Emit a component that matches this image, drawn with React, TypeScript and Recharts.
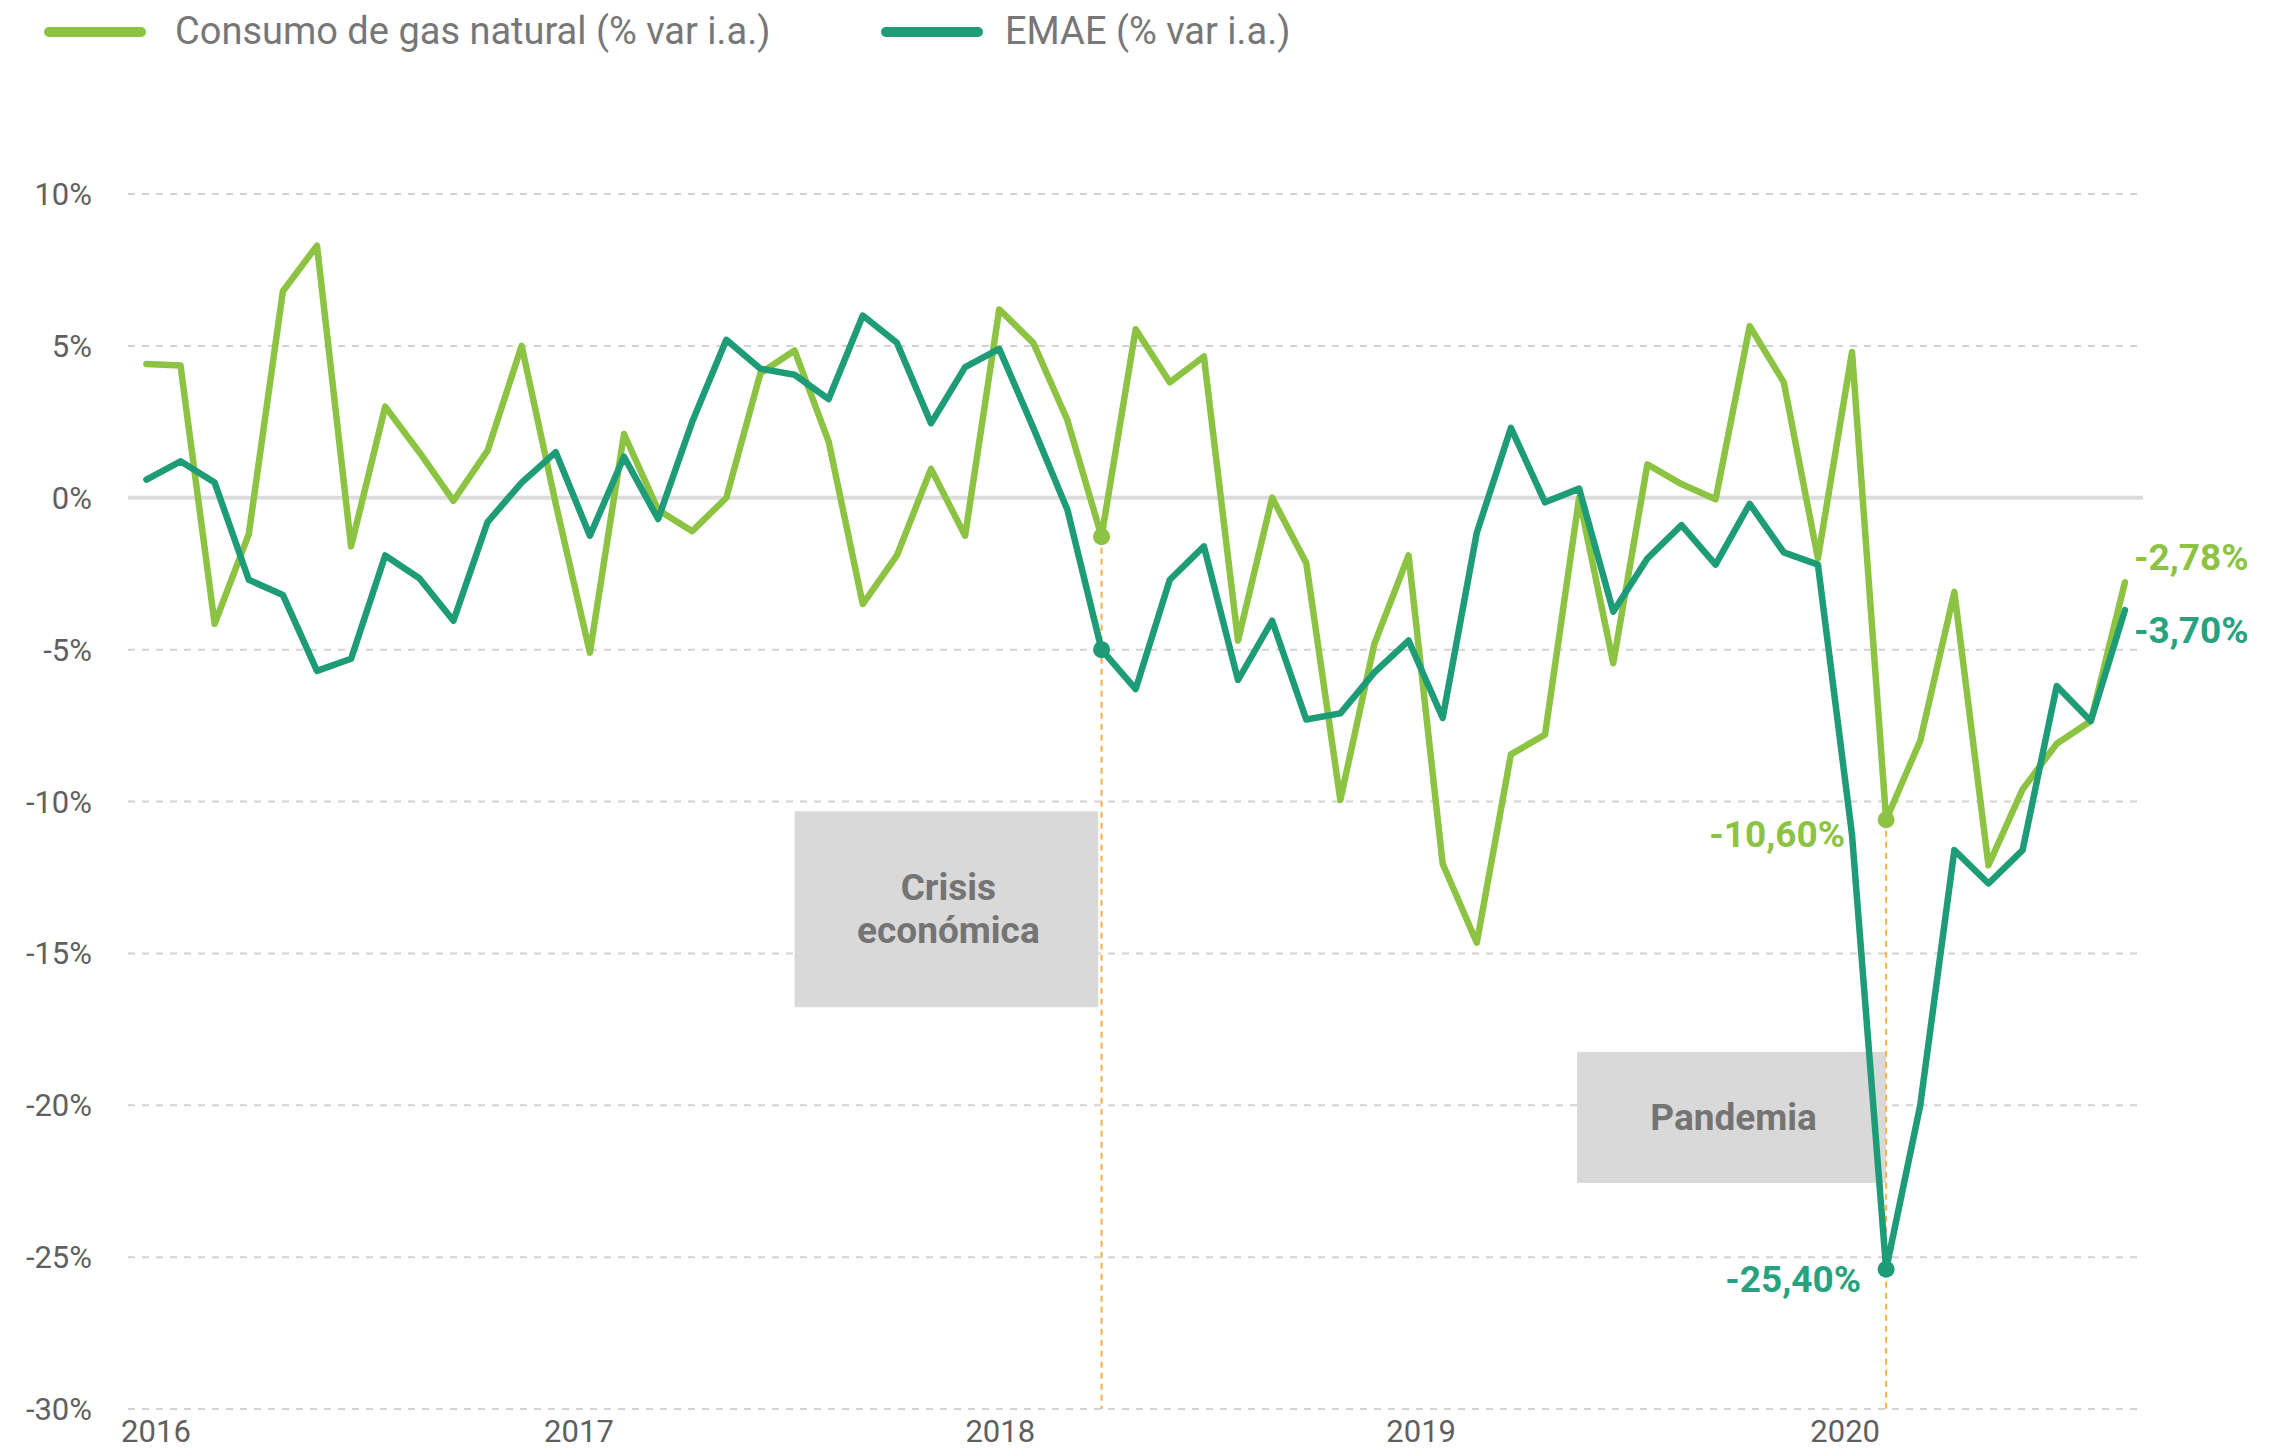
import { CartesianGrid, Line, LineChart, ReferenceArea, ReferenceLine, XAxis, YAxis } from "recharts";

// monthly series, Jan 2016 - Nov 2020
const months = [
  "ene-16", "feb-16", "mar-16", "abr-16", "may-16", "jun-16", "jul-16", "ago-16", "sep-16", "oct-16", "nov-16", "dic-16",
  "ene-17", "feb-17", "mar-17", "abr-17", "may-17", "jun-17", "jul-17", "ago-17", "sep-17", "oct-17", "nov-17", "dic-17",
  "ene-18", "feb-18", "mar-18", "abr-18", "may-18", "jun-18", "jul-18", "ago-18", "sep-18", "oct-18", "nov-18", "dic-18",
  "ene-19", "feb-19", "mar-19", "abr-19", "may-19", "jun-19", "jul-19", "ago-19", "sep-19", "oct-19", "nov-19", "dic-19",
  "ene-20", "feb-20", "mar-20", "abr-20", "may-20", "jun-20", "jul-20", "ago-20", "sep-20", "oct-20", "nov-20",
];

const gas = [
  4.4, 4.35, -4.15, -1.2, 6.8, 8.3, -1.6, 3.0, 1.5, -0.1, 1.55, 5.0,
  -0.2, -5.1, 2.1, -0.4, -1.1, 0.0, 4.1, 4.85, 1.85, -3.5, -1.9, 0.95,
  -1.25, 6.2, 5.1, 2.55, -1.28, 5.55, 3.8, 4.65, -4.7, 0.0, -2.15, -9.95,
  -4.8, -1.9, -12.05, -14.65, -8.45, -7.8, 0.0, -5.45, 1.1, 0.45, -0.05, 5.65,
  3.8, -2.0, 4.8, -10.6, -8.0, -3.1, -12.1, -9.6, -8.1, -7.35, -2.78,
];

const emae = [
  0.6, 1.2, 0.5, -2.7, -3.2, -5.7, -5.3, -1.9, -2.65, -4.05, -0.8, 0.5,
  1.5, -1.25, 1.35, -0.7, 2.5, 5.2, 4.25, 4.05, 3.25, 6.0, 5.1, 2.45,
  4.3, 4.9, 2.3, -0.4, -5.0, -6.3, -2.7, -1.6, -6.0, -4.05, -7.3, -7.1,
  -5.75, -4.7, -7.25, -1.15, 2.3, -0.15, 0.3, -3.75, -2.0, -0.9, -2.2, -0.2,
  -1.8, -2.2, -11.1, -25.4, -20.0, -11.6, -12.7, -11.6, -6.2, -7.35, -3.7,
];

const yTicks = [10, 5, 0, -5, -10, -15, -20, -25, -30];
const yearLabels = ["2016", "2017", "2018", "2019", "2020"];
const yearTicks = [0.28, 12.68, 25.03, 37.37, 49.8];

const CRISIS = 28; // may-18
const PANDEMIC = 51; // abr-20
const LAST = gas.length - 1;

const GAS = "#8cc342";
const EMAE = "#1e9b77";
const EMAE_TEXT = "#27a27f";
const GREY_TEXT = "#777777";

const data = months.map((m, i) => ({ i, month: m, gas: gas[i], emae: emae[i] }));

const fmt = (v: number) => `${v.toFixed(2).replace(".", ",")}%`;

const makeDot = (color: string) => (p: any) => {
  if (p.index !== CRISIS && p.index !== PANDEMIC) return <g key={p.index} />;
  return <circle key={p.index} cx={p.cx} cy={p.cy} r={8.5} fill={color} />;
};

const valueText = (color: string, offsets: Record<number, [number, number, string]>) => (p: any) => {
  const o = offsets[p.index];
  if (!o) return <g key={p.index} />;
  return (
    <text
      key={p.index}
      x={p.x + o[0]}
      y={p.y + o[1]}
      textAnchor={o[2] as any}
      dominantBaseline="central"
      fill={color}
      fontSize={37}
      fontWeight={700}
      fontFamily="Roboto"
    >
      {fmt(p.value)}
    </text>
  );
};

const boxLabel = (lines: string[]) => (p: any) => {
  const { x, y, width, height } = p.viewBox;
  const cx = x + width / 2;
  const cy = y + height / 2;
  const lh = 43;
  return (
    <g>
      {lines.map((t, k) => (
        <text
          key={t}
          x={cx + 2}
          y={cy + (k - (lines.length - 1) / 2) * lh}
          textAnchor="middle"
          dominantBaseline="central"
          fill="#747474"
          fontSize={37}
          fontWeight={700}
          fontFamily="Roboto"
        >
          {t}
        </text>
      ))}
    </g>
  );
};

function LegendItem({ color, label, left, textLeft }: { color: string; label: string; left: number; textLeft: number }) {
  return (
    <>
      <div style={{ position: "absolute", left, top: 27, width: 102, height: 10, borderRadius: 5, background: color }} />
      <div
        style={{
          position: "absolute",
          left: textLeft,
          top: 8,
          fontFamily: "Roboto",
          fontSize: 38,
          lineHeight: "46px",
          color: GREY_TEXT,
          whiteSpace: "nowrap",
        }}
      >
        {label}
      </div>
    </>
  );
}

export default function App() {
  return (
    <div style={{ position: "absolute", left: 0, top: 0, width: 2283, height: 1455, background: "#fff" }}>
      <LegendItem color={GAS} label="Consumo de gas natural (% var i.a.)" left={44} textLeft={175} />
      <LegendItem color={EMAE} label="EMAE (% var i.a.)" left={881} textLeft={1005} />
      <LineChart width={2283} height={1455} data={data} margin={{ top: 194, right: 140, bottom: 0, left: 0 }}>
        <CartesianGrid horizontal vertical={false} stroke="#d3d3d3" strokeWidth={2} strokeDasharray="7 7" />
        <XAxis
          type="number"
          dataKey="i"
          domain={[-0.54, 58.53]}
          ticks={yearTicks}
          tickFormatter={(v) => yearLabels[yearTicks.indexOf(v)] ?? ""}
          axisLine={false}
          tickLine={false}
          tickMargin={5}
          height={46}
          tick={{ fontSize: 31, fill: "#5f5f5f", fontFamily: "Roboto" }}
        />
        <YAxis
          type="number"
          domain={[-30, 10]}
          ticks={yTicks}
          tickFormatter={(v) => `${v}%`}
          axisLine={false}
          tickLine={false}
          tickMargin={30}
          width={128}
          tick={{ fontSize: 31, fill: "#5f5f5f", fontFamily: "Roboto" }}
        />
        <ReferenceLine y={0} stroke="#dcdcdc" strokeWidth={4} />
        <ReferenceArea x1={19} x2={27.9} y1={-10.32} y2={-16.77} fill="#d9d9d9" fillOpacity={1} stroke="none" label={boxLabel(["Crisis", "económica"])} />
        <ReferenceArea x1={41.94} x2={51} y1={-18.25} y2={-22.56} fill="#d9d9d9" fillOpacity={1} stroke="none" label={boxLabel(["Pandemia"])} />
        <ReferenceLine segment={[{ x: CRISIS, y: gas[CRISIS] }, { x: CRISIS, y: -30 }]} stroke="#f5b04c" strokeWidth={2} strokeDasharray="6 5" />
        <ReferenceLine segment={[{ x: PANDEMIC, y: gas[PANDEMIC] }, { x: PANDEMIC, y: -30 }]} stroke="#f5b04c" strokeWidth={2} strokeDasharray="6 5" />
        <Line
          type="linear"
          dataKey="gas"
          stroke={GAS}
          strokeWidth={6.5}
          strokeLinejoin="round"
          strokeLinecap="round"
          dot={makeDot(GAS)}
          activeDot={false}
          isAnimationActive={false}
          label={valueText(GAS, { [LAST]: [9, -25, "start"], [PANDEMIC]: [-41, 15, "end"] })}
        />
        <Line
          type="linear"
          dataKey="emae"
          stroke={EMAE}
          strokeWidth={6.5}
          strokeLinejoin="round"
          strokeLinecap="round"
          dot={makeDot(EMAE)}
          activeDot={false}
          isAnimationActive={false}
          label={valueText(EMAE_TEXT, { [LAST]: [9, 20, "start"], [PANDEMIC]: [-25, 10, "end"] })}
        />
      </LineChart>
    </div>
  );
}
